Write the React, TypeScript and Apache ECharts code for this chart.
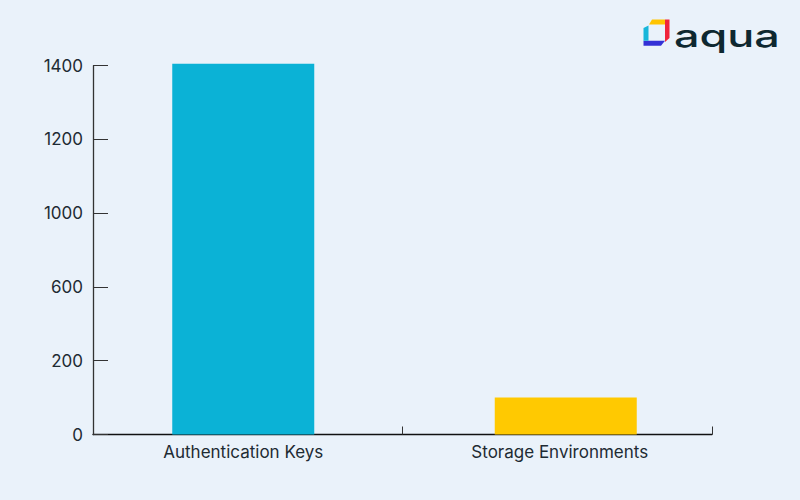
import React, { useEffect, useRef } from "react";
import * as echarts from "echarts";

const categories = ["Authentication Keys", "Storage Environments"];
const values = [1405, 100];
const barColors = ["#0BB2D6", "#FFC901"];
const yTickLabels = ["0", "200", "600", "1000", "1200", "1400"];
const yTickValues = [0, 200, 600, 1000, 1200, 1400];

// the reference axis places its labelled ticks evenly; map values onto tick positions
function toTickPosition(v: number): number {
  for (let i = 1; i < yTickValues.length; i++) {
    const a = yTickValues[i - 1];
    const b = yTickValues[i];
    if (v <= b || i === yTickValues.length - 1) {
      return i - 1 + (v - a) / (b - a);
    }
  }
  return 0;
}

export default function App() {
  const ref = useRef<HTMLDivElement>(null);
  useEffect(() => {
    if (!ref.current) return;
    const chart = echarts.init(ref.current, undefined, { renderer: "svg" });
    const textColor = "#1E2B33";
    const font = "Inter";
    chart.setOption({
      animation: false,
      backgroundColor: "#EAF2FA",
      grid: [
        { left: 93, right: 88, top: 65.7, bottom: 65.5 },
        { left: 82, right: 73, top: 65.7, bottom: 65.5 },
      ],
      xAxis: [
        {
          type: "category",
          gridIndex: 0,
          data: categories,
          axisLine: { show: true, lineStyle: { color: "#111", width: 1.3 } },
          axisTick: { show: true, inside: true, length: 8, lineStyle: { color: "#333" } },
          axisLabel: { show: false },
          splitLine: { show: false },
        },
        {
          type: "category",
          gridIndex: 1,
          data: categories,
          axisLine: { show: false },
          axisTick: { show: false },
          axisLabel: {
            show: true,
            color: textColor,
            fontFamily: font,
            fontSize: 17,
            margin: 9,
            formatter: (v: string, i: number) => (i === 1 ? `{s|${v}}` : `{a|${v}}`),
            rich: {
              a: { color: textColor, fontFamily: font, fontSize: 17 },
              s: { color: textColor, fontFamily: font, fontSize: 17, padding: [0, 12, 0, 0] },
            },
          },
        },
      ],
      yAxis: [
        {
          type: "value",
          gridIndex: 0,
          min: 0,
          max: 5,
          interval: 1,
          axisLine: { show: true, lineStyle: { color: "#333", width: 1.3 } },
          axisTick: { show: true, inside: true, length: 15, lineStyle: { color: "#333" } },
          axisLabel: {
            color: textColor,
            fontFamily: font,
            fontSize: 17,
            margin: 10,
            formatter: (v: number) => yTickLabels[Math.round(v)] ?? "",
          },
          splitLine: { show: false },
        },
        {
          type: "value",
          gridIndex: 1,
          min: 0,
          max: 5,
          interval: 1,
          show: false,
        },
      ],
      series: [
        {
          type: "bar",
          xAxisIndex: 1,
          yAxisIndex: 1,
          clip: false,
          barWidth: 142,
          data: values.map((v, i) => ({
            value: toTickPosition(v),
            itemStyle: { color: barColors[i] },
          })),
        },
      ],
      graphic: [
        { type: "polygon", shape: { points: [[652, 19.5], [665, 19.5], [665, 24.5], [649, 24.5]] }, style: { fill: "#FFC400" } },
        { type: "polygon", shape: { points: [[665, 19.5], [669.5, 19.5], [669.5, 38], [665, 42]] }, style: { fill: "#F0243A" } },
        { type: "polygon", shape: { points: [[643.5, 40.7], [665, 40.7], [661, 45.7], [643.5, 45.7]] }, style: { fill: "#3431D6" } },
        { type: "polygon", shape: { points: [[643.5, 28], [648.5, 25.5], [648.5, 40.7], [643.5, 40.7]] }, style: { fill: "#17B6D9" } },
        {
          type: "text",
          x: 674,
          y: 20.5,
          scaleX: 1.45,
          style: {
            text: "aqua",
            fill: "#0E2830",
            font: `500 31px ${font}`,
            verticalAlign: "top",
          },
        },
      ],
    });
    return () => chart.dispose();
  }, []);
  return (
    <div
      ref={ref}
      style={{ position: "fixed", left: 0, top: 0, width: 800, height: 500 }}
    />
  );
}
